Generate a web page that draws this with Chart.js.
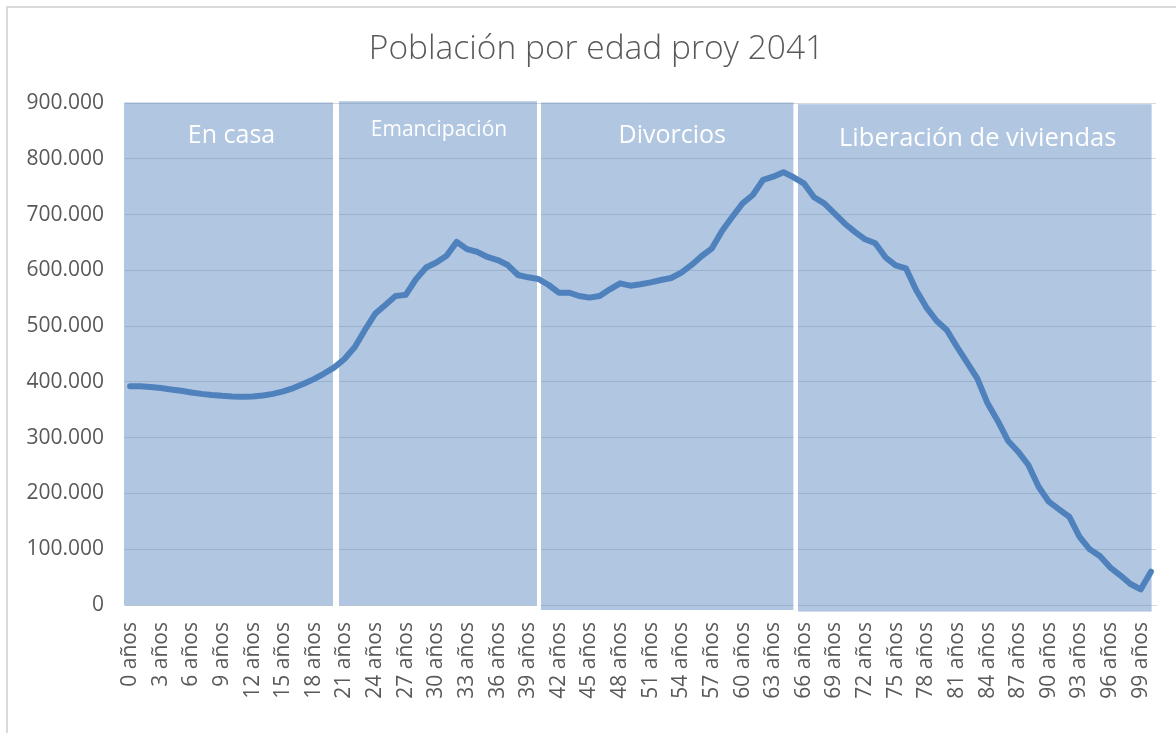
<!DOCTYPE html>
<html>
<head>
<meta charset="utf-8">
<script src="https://cdn.jsdelivr.net/npm/chart.js@4.4.1/dist/chart.umd.min.js"></script>
<style>
html,body{margin:0;padding:0;background:#fff;overflow:hidden;width:1176px;height:733px;}
#frame{position:absolute;left:6px;top:6px;width:1300px;height:800px;border:2px solid #d9d9d9;box-sizing:border-box;}
#wrap{position:absolute;left:0;top:0;width:1176px;height:733px;}
</style>
</head>
<body>
<div id="frame"></div>
<div id="wrap"><canvas id="c" width="1176" height="733"></canvas></div>
<script>
// ---- Data ----
const chartTitle = 'Población por edad proy 2041';

const ageLabels = [
  '0 años','1 años','2 años','3 años','4 años','5 años','6 años','7 años','8 años','9 años',
  '10 años','11 años','12 años','13 años','14 años','15 años','16 años','17 años','18 años','19 años',
  '20 años','21 años','22 años','23 años','24 años','25 años','26 años','27 años','28 años','29 años',
  '30 años','31 años','32 años','33 años','34 años','35 años','36 años','37 años','38 años','39 años',
  '40 años','41 años','42 años','43 años','44 años','45 años','46 años','47 años','48 años','49 años',
  '50 años','51 años','52 años','53 años','54 años','55 años','56 años','57 años','58 años','59 años',
  '60 años','61 años','62 años','63 años','64 años','65 años','66 años','67 años','68 años','69 años',
  '70 años','71 años','72 años','73 años','74 años','75 años','76 años','77 años','78 años','79 años',
  '80 años','81 años','82 años','83 años','84 años','85 años','86 años','87 años','88 años','89 años',
  '90 años','91 años','92 años','93 años','94 años','95 años','96 años','97 años','98 años','99 años',
  '100 años'
];

const population = [
  392000, 392000, 391000, 389000, 386500, 384000, 381000, 378500, 376500, 375000,
  374000, 373500, 373800, 375500, 378500, 383000, 389000, 396500, 405000, 415000,
  426000, 441000, 462000, 493000, 522000, 538000, 554000, 556000, 584000, 605000,
  614000, 626000, 651000, 638000, 633000, 624000, 618500, 609500, 591600, 587500,
  584500, 573700, 560000, 560000, 554000, 551000, 554000, 566000, 576700, 572500,
  575000, 578500, 582700, 586200, 595800, 609600, 625700, 639500, 671000, 696000,
  720000, 735000, 762000, 768000, 776000, 766800, 756000, 731000, 720000, 702000,
  684000, 669000, 655600, 648500, 623300, 609000, 603600, 564700, 533700, 509700,
  493000, 463000, 434400, 405700, 361600, 330000, 294600, 274900, 251000, 212000,
  185200, 171500, 158300, 122500, 99800, 87800, 67500, 53200, 37600, 28000,
  59700
];

const yTickMin = 0;
const yTickMax = 900000;
const yTickStep = 100000;

const regionNames = ['En casa', 'Emancipación', 'Divorcios', 'Liberación de viviendas'];

// ---- Helpers ----
function fmtEs(v) {
  return String(Math.round(v)).replace(/\B(?=(\d{3})+(?!\d))/g, '.');
}

// Region overlays (position/style of the shaded annotation boxes, in axis units)
const regionBoxes = [
  { x0: -0.6,  x1: 19.88,  top: 900900, bottom: -900,   size: 25, dx: 3, dy: 41 },
  { x0: 20.46, x1: 39.86,  top: 903200, bottom: -900,   size: 21, dx: 1, dy: 35 },
  { x0: 40.25, x1: 65.0,   top: 900900, bottom: -9000,  size: 25, dx: 5, dy: 40.5 },
  { x0: 65.41, x1: 100.07, top: 897800, bottom: -11800, size: 25.5, dx: 3, dy: 41.6 }
];

const regionsPlugin = {
  id: 'regions',
  beforeDatasetsDraw(chart) {
    const { ctx, scales: { x, y } } = chart;
    const rects = regionBoxes.map(b => ({
      l: x.getPixelForValue(b.x0),
      r: x.getPixelForValue(b.x1),
      t: y.getPixelForValue(b.top),
      b: y.getPixelForValue(b.bottom),
      box: b
    }));
    ctx.save();
    ctx.fillStyle = 'rgba(79,129,189,0.45)';
    rects.forEach(rc => ctx.fillRect(rc.l, rc.t, rc.r - rc.l, rc.b - rc.t));
    // white separators between boxes
    ctx.fillStyle = '#ffffff';
    const gTop = y.getPixelForValue(yTickMax) + 1.5;
    for (let i = 0; i < rects.length - 1; i++) {
      const a = rects[i], c = rects[i + 1];
      ctx.fillRect(a.r, gTop, c.l - a.r, Math.max(a.b, c.b) - gTop + 2);
    }
    // labels
    ctx.fillStyle = '#ffffff';
    ctx.textAlign = 'center';
    ctx.textBaseline = 'alphabetic';
    rects.forEach((rc, i) => {
      ctx.font = rc.box.size + 'px "Open Sans"';
      ctx.fillText(regionNames[i], (rc.l + rc.r) / 2 + rc.box.dx, rc.t + rc.box.dy);
    });
    ctx.restore();
  }
};

// Chart title drawn centred over the chart frame
const titlePlugin = {
  id: 'frameTitle',
  afterDraw(chart) {
    const c = chart.ctx;
    c.save();
    c.font = '300 33.5px "Open Sans"';
    c.fillStyle = '#595959';
    c.textAlign = 'center';
    c.textBaseline = 'middle';
    c.fillText(chartTitle, chart.width / 2 + 8.5, 49);
    c.restore();
  }
};

const ctx = document.getElementById('c').getContext('2d');
new Chart(ctx, {
  type: 'line',
  data: {
    labels: ageLabels,
    datasets: [{
      data: population,
      borderColor: '#4f81bd',
      borderWidth: 6,
      pointRadius: 0,
      pointHoverRadius: 0,
      tension: 0,
      fill: false,
      borderCapStyle: 'round',
      borderJoinStyle: 'round'
    }]
  },
  options: {
    responsive: false,
    animation: false,
    layout: { padding: { left: 20, right: 20, top: 103, bottom: 0 } },
    plugins: {
      legend: { display: false },
      tooltip: { enabled: false },
      title: { display: false }
    },
    scales: {
      x: {
        offset: true,
        grid: { display: false, drawTicks: false },
        border: { display: true, color: '#d9d9d9', width: 1 },
        ticks: {
          autoSkip: false,
          minRotation: 90,
          maxRotation: 90,
          padding: 17,
          color: '#595959',
          font: { family: 'Open Sans', size: 21 },
          callback: function (v, i) { return i % 3 === 0 ? this.getLabelForValue(v) : ''; }
        },
        afterFit(s) { s.height = 128; s.paddingLeft = 0; s.paddingRight = 0; }
      },
      y: {
        min: yTickMin,
        max: yTickMax,
        grid: { color: '#d9d9d9', lineWidth: 1, drawTicks: false },
        border: { display: false },
        ticks: {
          stepSize: yTickStep,
          padding: 21,
          color: '#595959',
          font: { family: 'Open Sans', size: 21 },
          callback: v => fmtEs(v)
        },
        afterFit(s) { s.width = 105; }
      }
    }
  },
  plugins: [regionsPlugin, titlePlugin]
});
</script>
</body>
</html>
